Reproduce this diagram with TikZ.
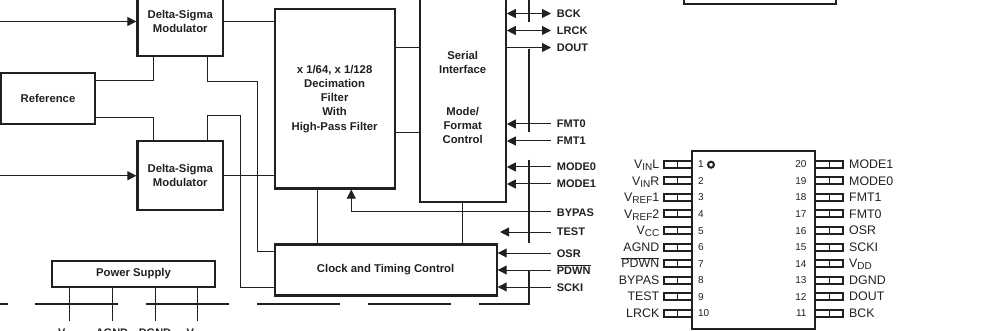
\documentclass[tikz,border=0pt]{standalone}
\usepackage{fontspec}
\setmainfont{Liberation Sans}
\usepackage{xcolor}
\usetikzlibrary{arrows.meta, positioning}
\definecolor{InkBlack}{RGB}{35,31,32}
\newcommand{\pinsub}[1]{\raisebox{-2pt}{\fontsize{10}{10}\selectfont #1}}
\newcommand{\barred}[1]{$\overline{\mbox{#1}}$}

\begin{document}
\begin{tikzpicture}[
  x=1pt, y=-1pt, color=InkBlack,
  block/.style={draw, line width=2.2pt, inner sep=0pt, align=center,
                font=\fontsize{11.3}{14.3}\selectfont\bfseries},
  signame/.style={anchor=west, inner xsep=5.7pt, inner ysep=0pt,
                  text height=8pt, text depth=0pt,
                  font=\fontsize{11}{13}\selectfont\bfseries},
  railname/.style={anchor=north, inner xsep=0pt, inner ysep=7pt,
                   text height=8pt, text depth=0pt,
                   font=\fontsize{11}{13}\selectfont\bfseries},
  wire/.style={line width=1pt},
  inarr/.style={wire, -{Triangle[length=9pt,width=9pt]}},
  botharr/.style={wire, {Triangle[length=9pt,width=9pt]}-{Triangle[length=9pt,width=9pt]}},
  rail/.style={line width=2.2pt},
  pinname/.style={inner ysep=0pt, text height=8.6pt, text depth=0pt,
                  font=\fontsize{12.4}{14}\selectfont},
  pinnum/.style={inner ysep=0pt, text height=7pt, text depth=0pt,
                 font=\fontsize{10}{12}\selectfont},
  pinbox/.style={draw, line width=2pt, inner sep=0pt, outer sep=0pt,
                 minimum width=28pt, minimum height=7pt,
                 path picture={\draw[line width=1pt] (path picture bounding box.north)
                   -- (path picture bounding box.south);}},
  pinl/.style n args={2}{pinbox,
                 label={[pinname, inner xsep=4pt]left:#1},
                 label={[pinnum, inner xsep=6.3pt]right:#2}},
  pinr/.style n args={2}{pinbox,
                 label={[pinname, inner xsep=6pt]right:#1},
                 label={[pinnum, inner xsep=8.3pt]left:#2}},
]
\useasboundingbox (0,0) rectangle (993,331);

% converter blocks
\node[block, minimum width=85.5pt, minimum height=69pt] (mod1) at (180.25,21.5)
  {Delta-Sigma\\Modulator};
\node[block, minimum width=85.5pt, minimum height=69pt] (mod2) at (180.25,175.75)
  {Delta-Sigma\\Modulator};
\node[block, minimum width=94pt, minimum height=51pt] (ref) at (48,98.5) {Reference};
\node[block, minimum width=120pt, minimum height=179.5pt] (dec) at (334.6,98.75)
  {x 1/64, x 1/128\\Decimation\\Filter\\With\\High-Pass Filter};
\node[block, minimum width=86pt, minimum height=209pt] (iface) at (462.7,97.5)
  {Serial\\Interface\\[27.5pt]Mode/\\Format\\Control};
\node[block, minimum width=222pt, minimum height=51pt] (clock) at (385.6,270)
  {Clock and Timing Control};
\node[block, minimum width=163pt, minimum height=26pt] (power) at (133.5,274)
  {Power Supply};

% signal names on the right
\node[signame] (BCK) at (551,13.5) {BCK};
\node[signame] (LRCK) at (551,30.5) {LRCK};
\node[signame] (DOUT) at (551,47.5) {DOUT};
\node[signame] (FMT0) at (551,124) {FMT0};
\node[signame] (FMT1) at (551,141) {FMT1};
\node[signame] (MODE0) at (551,167) {MODE0};
\node[signame] (MODE1) at (551,184) {MODE1};
\node[signame] (BYPAS) at (551,212) {BYPAS};
\node[signame] (TEST) at (551,232) {TEST};
\node[signame] (OSR) at (551,253) {OSR};
\node[signame] (PDWN) at (551,270) {\barred{PDWN}};
\node[signame] (SCKI) at (551,287) {SCKI};

% supply names under the rail
\node[railname] (vcc) at (69,321) {V\pinsub{CC}};
\node[railname] (agnd) at (112,321) {AGND};
\node[railname] (dgnd) at (155,321) {DGND};
\node[railname] (vdd) at (197.5,321) {V\pinsub{DD}};

% helpers
\coordinate (inL) at (0,21.5);
\coordinate (inR) at (0,175.75);
\coordinate (tapA) at (257,81.5);
\coordinate (tapB) at (240,116);
\coordinate (rowB) at (0,133);
\coordinate (colA) at (317,0);
\coordinate (testEnd) at (500,232);

% analog side
\draw[inarr] (inL) -- (mod1.west);
\draw[inarr] (inR) -- (mod2.west);
\draw[wire] ([yshift=-8.5pt]ref.north east) -| ([xshift=17.5pt]mod1.south west);
\draw[wire] ([yshift=8pt]ref.south east) -| ([xshift=17.5pt]mod2.north west);
\draw[wire] ([xshift=-17pt]mod1.south east) |- (tapA) |- ([yshift=-8.5pt]clock.north west);
\draw[wire] ([xshift=-17pt]mod2.north east) |- (tapB) |- ([yshift=9pt]clock.south west);
\draw[wire] (mod1.east) -- (mod1.east -| dec.west);
\draw[wire] (mod2.east) -- (mod2.east -| dec.west);

% digital side
\draw[wire] (dec.east |- DOUT.west) -- (iface.west |- DOUT.west);
\draw[wire] (dec.east |- rowB) -- (iface.west |- rowB);
\draw[wire] (dec.south -| colA) -- (clock.north -| colA);
\draw[wire] (iface.south) -- (iface.south |- clock.north);
\draw[inarr] (BYPAS.west) -| ([xshift=16.7pt]dec.south);

\draw[botharr] (iface.east |- BCK.west) -- (BCK.west);
\draw[botharr] (iface.east |- LRCK.west) -- (LRCK.west);
\draw[inarr] (iface.east |- DOUT.west) -- (DOUT.west);
\draw[inarr] (FMT0.west) -- (FMT0.west -| iface.east);
\draw[inarr] (FMT1.west) -- (FMT1.west -| iface.east);
\draw[inarr] (MODE0.west) -- (MODE0.west -| iface.east);
\draw[inarr] (MODE1.west) -- (MODE1.west -| iface.east);
\draw[inarr] (TEST.west) -- (testEnd);
\draw[inarr] (OSR.west) -- (OSR.west -| clock.east);
\draw[inarr] (PDWN.west) -- (PDWN.west -| clock.east);
\draw[inarr] (SCKI.west) -- (SCKI.west -| clock.east);

% power rails
\draw[wire] (vcc.north |- power.south) -- (vcc.north);
\draw[wire] (agnd.north |- power.south) -- (agnd.north);
\draw[wire] (dgnd.north |- power.south) -- (dgnd.north);
\draw[wire] (vdd.north |- power.south) -- (vdd.north);

% analog / digital boundary
\draw[rail] (529,0) -- (529,22);
\draw[rail] (529,49.5) -- (529,132);
\draw[rail] (529,160) -- (529,243);
\draw[rail] (529,271) -- (529,304) -- (479,304);
\draw[rail] (368,304) -- (451,304);
\draw[rail] (257,304) -- (340,304);
\draw[rail] (146,304) -- (229,304);
\draw[rail] (35,304) -- (118,304);
\draw[rail] (0,304) -- (7.5,304);

% package
\node[draw, line width=2pt, minimum width=152pt, minimum height=40pt] (part) at (760,-15.5) {};
\node[draw, line width=2pt, inner sep=0pt, minimum width=123.3pt, minimum height=178.3pt] (chip) at (753.35,240) {};
\node[draw, circle, line width=2pt, inner sep=0pt, minimum size=6pt] (dot) at (711,164.7) {};

\node[pinl={V\pinsub{IN}L}{1}] (pin1) at (677.5,164.5) {};
\node[pinl={V\pinsub{IN}R}{2}, below=9.5pt of pin1] (pin2) {};
\node[pinl={V\pinsub{REF}1}{3}, below=9.5pt of pin2] (pin3) {};
\node[pinl={V\pinsub{REF}2}{4}, below=9.5pt of pin3] (pin4) {};
\node[pinl={V\pinsub{CC}}{5}, below=9.5pt of pin4] (pin5) {};
\node[pinl={AGND}{6}, below=9.5pt of pin5] (pin6) {};
\node[pinl={\barred{PDWN}}{7}, below=9.5pt of pin6] (pin7) {};
\node[pinl={BYPAS}{8}, below=9.5pt of pin7] (pin8) {};
\node[pinl={TEST}{9}, below=9.5pt of pin8] (pin9) {};
\node[pinl={LRCK}{10}, below=9.5pt of pin9] (pin10) {};

\node[pinr={MODE1}{20}] (pin20) at (829,164.5) {};
\node[pinr={MODE0}{19}, below=9.5pt of pin20] (pin19) {};
\node[pinr={FMT1}{18}, below=9.5pt of pin19] (pin18) {};
\node[pinr={FMT0}{17}, below=9.5pt of pin18] (pin17) {};
\node[pinr={OSR}{16}, below=9.5pt of pin17] (pin16) {};
\node[pinr={SCKI}{15}, below=9.5pt of pin16] (pin15) {};
\node[pinr={V\pinsub{DD}}{14}, below=9.5pt of pin15] (pin14) {};
\node[pinr={DGND}{13}, below=9.5pt of pin14] (pin13) {};
\node[pinr={DOUT}{12}, below=9.5pt of pin13] (pin12) {};
\node[pinr={BCK}{11}, below=9.5pt of pin12] (pin11) {};
\end{tikzpicture}
\end{document}
